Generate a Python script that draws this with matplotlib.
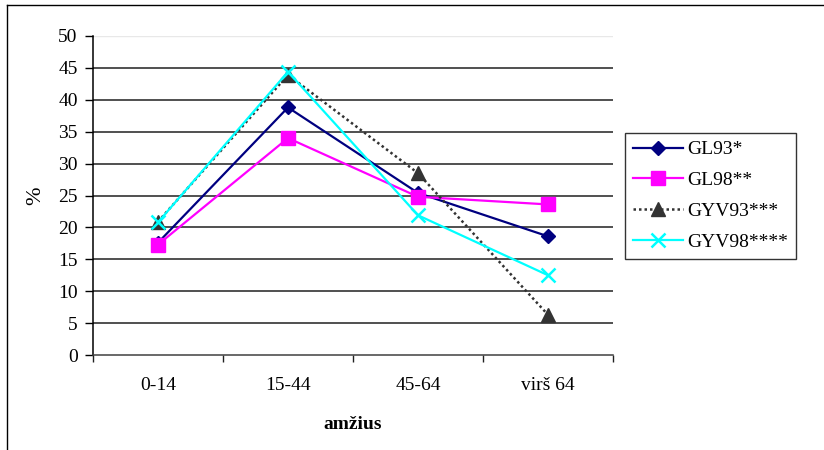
import matplotlib
matplotlib.use("Agg")
import matplotlib.pyplot as plt
from matplotlib.lines import Line2D

plt.rcParams['font.family'] = ['Liberation Serif', 'DejaVu Serif']

categories = ["0-14", "15-44", "45-64", "virš 64"]
gl93 = [17.6, 38.8, 25.4, 18.6]
gl98 = [17.3, 34.0, 24.8, 23.6]
gyv93 = [20.9, 43.9, 28.5, 6.3]
gyv98 = [20.8, 44.4, 21.9, 12.5]
series_names = ["GL93*", "GL98**", "GYV93***", "GYV98****"]
y_ticks = list(range(0, 55, 5))

FS = 14

fig = plt.figure(figsize=(8.24, 4.5), dpi=100)
ax = fig.add_axes([93 / 824, 1 - 355 / 450, 520 / 824, 319 / 450])

x = list(range(len(categories)))

for t in y_ticks[1:-1]:
    ax.axhline(t, color="#202020", lw=1.1, zorder=1)
ax.axhline(50, color="#e8e8e8", lw=1.0, zorder=1)

ax.plot(x, gl93, color="#000080", lw=1.6, marker="D", ms=7,
        mfc="#000080", mec="#000080", zorder=3, label=series_names[0])
ax.plot(x, gl98, color="#FF00FF", lw=1.6, marker="s", ms=10,
        mfc="#FF00FF", mec="#FF00FF", zorder=3, label=series_names[1])
ax.plot(x, gyv93, color="#333333", lw=1.8, ls=(0, (1, 1.2)), marker="^", ms=10,
        mfc="#333333", mec="#333333", zorder=3, label=series_names[2])
ax.plot(x, gyv98, color="#00FFFF", lw=1.6, marker="x", ms=10, mew=1.8,
        mec="#00FFFF", zorder=3, label=series_names[3])

ax.set_xlim(-0.5, len(categories) - 0.5)
ax.set_ylim(0, 50)
ax.set_yticks(y_ticks)
ax.set_yticklabels([str(t) for t in y_ticks], fontsize=FS)
ax.set_xticks(x)
ax.set_xticklabels(categories, fontsize=FS)
ax.tick_params(axis="x", length=0, pad=16)
ax.set_xticks([i - 0.5 for i in range(len(categories) + 1)], minor=True)
ax.tick_params(axis="x", which="minor", length=5, width=1, color="#202020", direction="out")
ax.tick_params(axis="y", length=6, width=1, direction="out", pad=5)

for side in ["top", "right"]:
    ax.spines[side].set_visible(False)
ax.spines["left"].set_color("black")
ax.spines["left"].set_linewidth(1.1)
ax.spines["bottom"].set_color("#404040")
ax.spines["bottom"].set_linewidth(1.1)

ax.set_xlabel("amžius", fontsize=FS, fontweight="bold", labelpad=16)
ax.set_ylabel("%", fontsize=FS + 2, labelpad=9)

leg = fig.legend(loc="upper left", bbox_to_anchor=(625 / 824, 1 - 133 / 450),
                 fontsize=FS, frameon=True, fancybox=False, edgecolor="black",
                 handlelength=2.6, labelspacing=0.68, borderpad=0.4, handletextpad=0.2,
                 borderaxespad=0)
leg.get_frame().set_linewidth(1.0)

# outer frame
fig.add_artist(Line2D([7 / 824, 7 / 824], [0, 1 - 5 / 450], transform=fig.transFigure, color="black", lw=1))
fig.add_artist(Line2D([7 / 824, 1], [1 - 5 / 450, 1 - 5 / 450], transform=fig.transFigure, color="black", lw=1))

fig.savefig("out.png", dpi=100)
